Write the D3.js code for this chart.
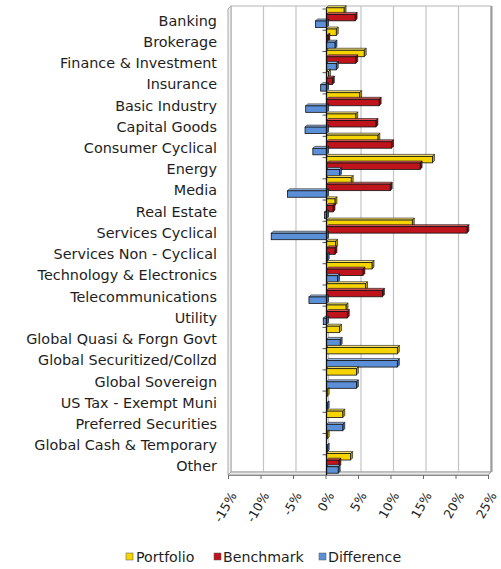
<!DOCTYPE html>
<html>
<head>
<meta charset="utf-8">
<script src="https://cdn.jsdelivr.net/npm/d3@7"></script>
<style>
  html, body { margin: 0; padding: 0; background: #ffffff; }
  svg { display: block; }
</style>
</head>
<body>
<svg id="chart" width="501" height="569"></svg>
<script>
// ---- Data ----
const categories = [
  "Banking", "Brokerage", "Finance & Investment", "Insurance", "Basic Industry",
  "Capital Goods", "Consumer Cyclical", "Energy", "Media", "Real Estate",
  "Services Cyclical", "Services Non - Cyclical", "Technology & Electronics",
  "Telecommunications", "Utility", "Global Quasi & Forgn Govt",
  "Global Securitized/Collzd", "Global Sovereign", "US Tax - Exempt Muni",
  "Preferred Securities", "Global Cash & Temporary", "Other"
];
const portfolio  = [2.7, 1.5, 5.8, 0.3, 5.1, 4.5, 7.9, 16.3, 3.8, 1.3, 13.2, 1.4, 7.0, 6.0, 3.0, 2.0, 10.9, 4.6, 0.1, 2.5, 0.1, 3.7];
const benchmark  = [4.4, 0.2, 4.5, 0.9, 8.1, 7.6, 10.0, 14.4, 9.8, 1.0, 21.6, 1.3, 5.6, 8.6, 3.2, 0.0, 0.0, 0.0, 0.0, 0.0, 0.0, 1.9];
const difference = [-1.7, 1.3, 1.5, -0.9, -3.2, -3.3, -2.1, 2.0, -6.0, -0.3, -8.5, 0.1, 1.7, -2.7, -0.5, 2.1, 10.9, 4.6, 0.1, 2.5, 0.1, 1.8];
const seriesNames = ["Portfolio", "Benchmark", "Difference"];
const tickValues = [-15, -10, -5, 0, 5, 10, 15, 20, 25];

const seriesValues = [portfolio, benchmark, difference];
const colors = ["#f6d400", "#c0141c", "#5b8fd8"];
const topColors = ["#fbe86a", "#dd5a5e", "#9cbdeb"];
const sideColors = ["#b89c00", "#7e0c10", "#3b66a6"];

const svg = d3.select("#chart");
const fontFamily = "'DejaVu Sans', Verdana, sans-serif";

// ---- Scales ----
const x = d3.scaleLinear().domain([-15, 25]).range([228, 488]);
const y = d3.scaleBand().domain(categories).range([10, 477]).paddingInner(0).paddingOuter(0);
const inner = d3.scaleBand().domain(seriesNames).range([0, y.bandwidth()]).paddingOuter(0.12).paddingInner(0.02);

const depth = 3;          // 3D depth offset
const floorY = 475;
const topY = 6;

// ---- Back wall & frame ----
const g = svg.append("g");
g.append("rect")
  .attr("x", x(-15) + depth).attr("y", topY)
  .attr("width", x(25) - x(-15)).attr("height", floorY - depth - topY)
  .attr("fill", "#ffffff").attr("stroke", "#b5b5b5").attr("stroke-width", 1);
g.selectAll(".grid").data(tickValues.slice(1, -1)).enter().append("line")
  .attr("x1", d => x(d) + depth).attr("x2", d => x(d) + depth)
  .attr("y1", topY).attr("y2", floorY - depth)
  .attr("stroke", "#c4c4c4").attr("stroke-width", 1.2);
g.append("line")
  .attr("x1", x(25) + depth + 0.5).attr("x2", x(25) + depth + 0.5)
  .attr("y1", topY).attr("y2", floorY - depth)
  .attr("stroke", "#9a9a9a").attr("stroke-width", 2);
g.append("path")
  .attr("d", `M${x(-15)},${topY + depth} L${x(-15) + depth},${topY} L${x(-15) + depth},${floorY - depth} L${x(-15)},${floorY} Z`)
  .attr("fill", "#f0f0f0").attr("stroke", "#a8a8a8").attr("stroke-width", 1);
g.append("path")
  .attr("d", `M${x(-15)},${floorY} L${x(-15) + depth},${floorY - depth} L${x(25) + depth},${floorY - depth} L${x(25)},${floorY} Z`)
  .attr("fill", "#e8e8e8").attr("stroke", "#a0a0a0").attr("stroke-width", 1);

// ---- X axis ----
const xAxis = d3.axisBottom(x).tickValues(tickValues).tickSize(4).tickFormat(d => d + "%");
const xg = svg.append("g").attr("transform", `translate(0,${floorY})`).call(xAxis);
xg.select(".domain").attr("stroke", "#8a8a8a");
xg.selectAll(".tick line").attr("stroke", "#6a6a6a");
xg.selectAll(".tick text")
  .attr("font-family", fontFamily).attr("font-size", 12.5).attr("fill", "#222")
  .attr("text-anchor", "end")
  .attr("transform", "translate(5,2) rotate(-60)")
  .attr("x", -14).attr("y", 8).attr("dy", "0.35em");

// ---- Category labels ----
svg.append("g").selectAll("text").data(categories).enter().append("text")
  .attr("x", 217)
  .attr("y", d => y(d) + y.bandwidth() / 2)
  .attr("dy", "0.35em")
  .attr("text-anchor", "end")
  .attr("font-family", fontFamily).attr("font-size", 14.4)
  .attr("fill", "#1e1e1e")
  .text(d => d);

// ---- Category ticks on zero axis ----
const zg = svg.append("g");
zg.selectAll("line.ct").data(categories).enter().append("line")
  .attr("x1", x(0) - 3).attr("x2", x(0) + 1)
  .attr("y1", d => y(d) - 1).attr("y2", d => y(d) - 1)
  .attr("stroke", "#555").attr("stroke-width", 1);

// ---- Bars ----
const bars = svg.append("g");
const rows = [];
categories.forEach((c, i) => {
  seriesNames.forEach((s, j) => {
    rows.push({ cat: c, series: j, value: seriesValues[j][i] });
  });
});
const barG = bars.selectAll("g.bar").data(rows.filter(r => r.value !== 0)).enter().append("g");
barG.each(function (d) {
  const sel = d3.select(this);
  const x0 = Math.min(x(0), x(d.value)) + 1;
  const x1 = Math.max(x(0), x(d.value)) + 1;
  const yy = y(d.cat) + inner(seriesNames[d.series]) - 3;
  const h = inner.bandwidth();
  const dd = 2;
  sel.append("path")
    .attr("d", `M${x0},${yy} L${x0 + dd},${yy - dd} L${x1 + dd},${yy - dd} L${x1},${yy} Z`)
    .attr("fill", topColors[d.series]).attr("stroke", "#111").attr("stroke-width", 0.6);
  sel.append("path")
    .attr("d", `M${x1},${yy} L${x1 + dd},${yy - dd} L${x1 + dd},${yy + h - dd} L${x1},${yy + h} Z`)
    .attr("fill", sideColors[d.series]).attr("stroke", "#111").attr("stroke-width", 0.6);
  sel.append("rect")
    .attr("x", x0).attr("y", yy).attr("width", Math.max(0.5, x1 - x0)).attr("height", h)
    .attr("fill", colors[d.series]).attr("stroke", "#111").attr("stroke-width", 0.8);
});

// zero line
svg.append("line")
  .attr("x1", x(0) + 1).attr("x2", x(0) + 1)
  .attr("y1", topY + depth + 1).attr("y2", floorY)
  .attr("stroke", "#111").attr("stroke-width", 1.3);

// ---- Legend ----
const legendItems = [
  { name: "Portfolio", xs: 126, xt: 136 },
  { name: "Benchmark", xs: 214, xt: 223 },
  { name: "Difference", xs: 319, xt: 328 }
];
const lg = svg.append("g");
legendItems.forEach((it, i) => {
  lg.append("rect").attr("x", it.xs).attr("y", 553).attr("width", 7).attr("height", 7)
    .attr("fill", colors[i]).attr("stroke", "#555").attr("stroke-width", 0.5);
  lg.append("text").attr("x", it.xt).attr("y", 557).attr("dy", "0.35em")
    .attr("font-family", fontFamily).attr("font-size", 14.2).attr("fill", "#1e1e1e")
    .text(it.name);
});
</script>
</body>
</html>
